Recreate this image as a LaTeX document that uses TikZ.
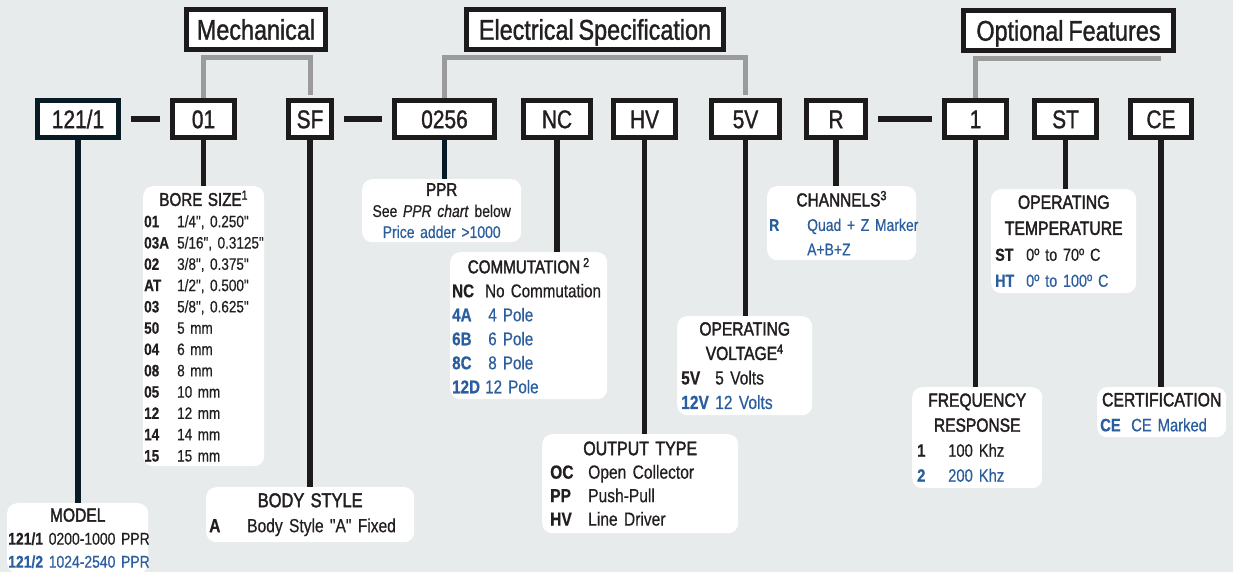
\documentclass[tikz,border=0pt]{standalone}
\usepackage{fontspec}
\setmainfont{Liberation Sans}[FakeStretch=0.82, FakeBold=0.5, WordSpace=0.75, Ligatures=TeXOff]
\newfontfamily\medfont{Liberation Sans}[FakeStretch=0.82, FakeBold=1.2, WordSpace=0.75, Ligatures=TeXOff]
\newfontfamily\headfont{Liberation Sans}[FakeStretch=0.82, FakeBold=2, WordSpace=0.75, Ligatures=TeXOff]

\definecolor{bgfill}{RGB}{232,235,236}
\definecolor{boxblack}{RGB}{28,26,27}
\definecolor{navyblack}{RGB}{8,26,36}
\definecolor{linkgray}{RGB}{155,155,155}
\definecolor{txtblack}{RGB}{35,31,32}
\definecolor{specblue}{RGB}{43,94,158}

\newlength\codew
\newcommand{\infotitle}[2]{{\centering\headfont\fontsize{#1}{\baselineskip}\selectfont #2\par}}
\newcommand{\coderow}[2]{\noindent\makebox[\codew][l]{\bfseries #1}\mbox{#2}\par}
\newcommand{\bluerow}[2]{{\color{specblue}\coderow{#1}{#2}}}

\tikzset{
    groupbox/.style={draw=boxblack, line width=5pt, fill=white, minimum height=40pt,
        inner sep=0pt, text=txtblack, font=\medfont\fontsize{28.5}{34}\selectfont,
        text height=20.4pt, text depth=0pt},
    codebox/.style={draw=boxblack, line width=5pt, fill=white, minimum height=37pt,
        inner sep=0pt, text=txtblack, font=\medfont\fontsize{25.5}{30}\selectfont,
        text height=18.3pt, text depth=0pt},
    info/.style={fill=white, rounded corners=10pt, anchor=north west, align=left,
        inner ysep=0pt, text=txtblack},
    leader/.style={draw=boxblack, line width=5.5pt},
    grouplink/.style={draw=linkgray, line width=5pt, shorten >=2.5pt},
    joinbar/.style={draw=boxblack, line width=6pt, shorten <=10pt, shorten >=10pt},
}

\begin{document}
\begin{tikzpicture}[x=1pt, y=-1pt]
    \fill[bgfill] (0,0) rectangle (1233,572);
    \useasboundingbox (0,0) rectangle (1233,572);

    % Group headers
    \node[groupbox, minimum width=139pt] (mech) at (256,29.5) {Mechanical};
    \node[groupbox, minimum width=257pt] (elec) at (595,29.5) {Electrical Specification};
    \node[groupbox, minimum width=210pt] (opt) at (1068.5,30.5) {Optional Features};

    % Part number fields
    \node[codebox, draw=navyblack, minimum width=81pt] (c121) at (78,119) {121/1};
    \node[codebox, minimum width=62pt] (c01) at (203.5,119) {01};
    \node[codebox, minimum width=43pt] (cSF) at (310,119) {SF};
    \node[codebox, minimum width=100pt] (c0256) at (444.5,119) {0256};
    \node[codebox, minimum width=67pt] (cNC) at (557,119) {NC};
    \node[codebox, minimum width=62pt] (cHV) at (644.5,119) {HV};
    \node[codebox, minimum width=68pt] (c5V) at (745.5,119) {5V};
    \node[codebox, minimum width=59pt] (cR) at (836,119) {R};
    \node[codebox, minimum width=62pt] (c1) at (975.5,119) {1};
    \node[codebox, minimum width=62pt] (cST) at (1065.5,119) {ST};
    \node[codebox, minimum width=61pt] (cCE) at (1161,119) {CE};

    % Dashes between fields
    \draw[joinbar] (c121) -- (c01);
    \draw[joinbar] (cSF) -- (c0256);
    \draw[joinbar] (cR) -- (c1);

    % Gray brackets under the headers
    \coordinate (mechbar) at ([yshift=-5.5pt]mech.south);
    \coordinate (elecbar) at ([yshift=-5.5pt]elec.south);
    \coordinate (optbar) at ([yshift=-5.5pt]opt.south);
    \draw[grouplink] (c01.north) -- (c01.north |- mechbar) -- (cSF.north |- mechbar) -- (cSF.north);
    \draw[grouplink] (c0256.north) -- (c0256.north |- elecbar) -- (c5V.north |- elecbar) -- (c5V.north);
    \draw[grouplink, shorten >=0pt] (c1.north) -- (c1.north |- optbar) -- (cCE.north |- optbar);

    % Option boxes
    \node[info, text width=139pt, inner xsep=1pt, minimum height=70pt,
        font=\fontsize{17}{23}\selectfont] (model) at (7,503) {%
        \infotitle{19}{MODEL}
        \noindent\mbox{\textbf{121/1} 0200-1000 PPR}\par
        {\color{specblue}\noindent\mbox{\textbf{121/2} 1024-2540 PPR}\par}};

    \node[info, text width=119pt, inner xsep=1pt, minimum height=280pt,
        font=\fontsize{16.5}{21.3}\selectfont] (bore) at (143,186) {%
        \setlength\codew{33pt}%
        \infotitle{18.5}{BORE SIZE\textsuperscript{1}}
        \coderow{01}{1/4", 0.250"}
        \coderow{03A}{5/16", 0.3125"}
        \coderow{02}{3/8", 0.375"}
        \coderow{AT}{1/2", 0.500"}
        \coderow{03}{5/8", 0.625"}
        \coderow{50}{5 mm}
        \coderow{04}{6 mm}
        \coderow{08}{8 mm}
        \coderow{05}{10 mm}
        \coderow{12}{12 mm}
        \coderow{14}{14 mm}
        \coderow{15}{15 mm}};

    \node[info, text width=202pt, inner xsep=3pt, minimum height=55pt,
        font=\fontsize{19}{25}\selectfont] (body) at (206,487) {%
        \setlength\codew{38pt}%
        \infotitle{20}{BODY STYLE}
        \coderow{A}{Body Style "A" Fixed}};

    \node[info, text width=155pt, inner xsep=2pt, minimum height=63pt,
        font=\fontsize{17}{21}\selectfont] (ppr) at (362,179) {%
        \infotitle{18.5}{PPR}
        {\centering See \textit{PPR chart} below\par}
        {\centering\color{specblue}Price adder >1000\par}};

    \node[info, text width=153pt, inner xsep=2pt, minimum height=147pt,
        font=\fontsize{18.5}{24}\selectfont] (comm) at (450,252) {%
        \setlength\codew{33pt}%
        \infotitle{18.5}{COMMUTATION\,\textsuperscript{2}}
        \coderow{NC}{No Commutation}
        \bluerow{4A}{\,4 Pole}
        \bluerow{6B}{\,6 Pole}
        \bluerow{8C}{\,8 Pole}
        \bluerow{12D}{12 Pole}};

    \node[info, text width=180pt, inner xsep=8pt, minimum height=99pt,
        font=\fontsize{19}{23.5}\selectfont] (out) at (542,434) {%
        \setlength\codew{38pt}%
        \infotitle{19.5}{OUTPUT TYPE}
        \coderow{OC}{Open Collector}
        \coderow{PP}{Push-Pull}
        \coderow{HV}{Line Driver}};

    \node[info, text width=127pt, inner xsep=4pt, minimum height=99pt,
        font=\fontsize{19}{24.5}\selectfont] (volt) at (677,316) {%
        \setlength\codew{34pt}%
        \infotitle{19}{OPERATING\\VOLTAGE\textsuperscript{4}}
        \coderow{5V}{5 Volts}
        \bluerow{12V}{12 Volts}};

    \node[info, text width=145pt, inner xsep=2pt, minimum height=74pt,
        font=\fontsize{17}{24.5}\selectfont] (chan) at (767,186) {%
        \setlength\codew{38pt}%
        \infotitle{18.8}{CHANNELS\textsuperscript{3}}
        \bluerow{R}{Quad + Z Marker}
        \bluerow{}{A+B+Z}};

    \node[info, text width=137pt, inner xsep=4pt, minimum height=104pt,
        font=\fontsize{17.5}{26}\selectfont] (temp) at (991,189) {%
        \setlength\codew{31pt}%
        \infotitle{19.2}{OPERATING\\TEMPERATURE}
        \coderow{ST}{0º to 70º C}
        \bluerow{HT}{0º to 100º C}};

    \node[info, text width=120pt, inner xsep=5pt, minimum height=101pt,
        font=\fontsize{18}{25}\selectfont] (freq) at (912,387) {%
        \setlength\codew{31pt}%
        \infotitle{19}{FREQUENCY\\RESPONSE}
        \coderow{1}{100 Khz}
        \bluerow{2}{200 Khz}};

    \node[info, text width=123pt, inner xsep=3pt, minimum height=50pt,
        font=\fontsize{18}{25}\selectfont] (cert) at (1097,387) {%
        \setlength\codew{31pt}%
        \infotitle{19.2}{CERTIFICATION}
        \bluerow{CE}{CE Marked}};

    % Leaders from fields to option boxes
    \draw[leader, draw=navyblack] (c121.south) -- (c121.south |- model.north);
    \draw[leader] (c01.south) -- (c01.south |- bore.north);
    \draw[leader] (cSF.south) -- (cSF.south |- body.north);
    \draw[leader, draw=navyblack] (c0256.south) -- (c0256.south |- ppr.north);
    \draw[leader] (cNC.south) -- (cNC.south |- comm.north);
    \draw[leader] (cHV.south) -- (cHV.south |- out.north);
    \draw[leader] (c5V.south) -- (c5V.south |- volt.north);
    \draw[leader] (cR.south) -- (cR.south |- chan.north);
    \draw[leader] (c1.south) -- (c1.south |- freq.north);
    \draw[leader] (cST.south) -- (cST.south |- temp.north);
    \draw[leader] (cCE.south) -- (cCE.south |- cert.north);
\end{tikzpicture}
\end{document}
